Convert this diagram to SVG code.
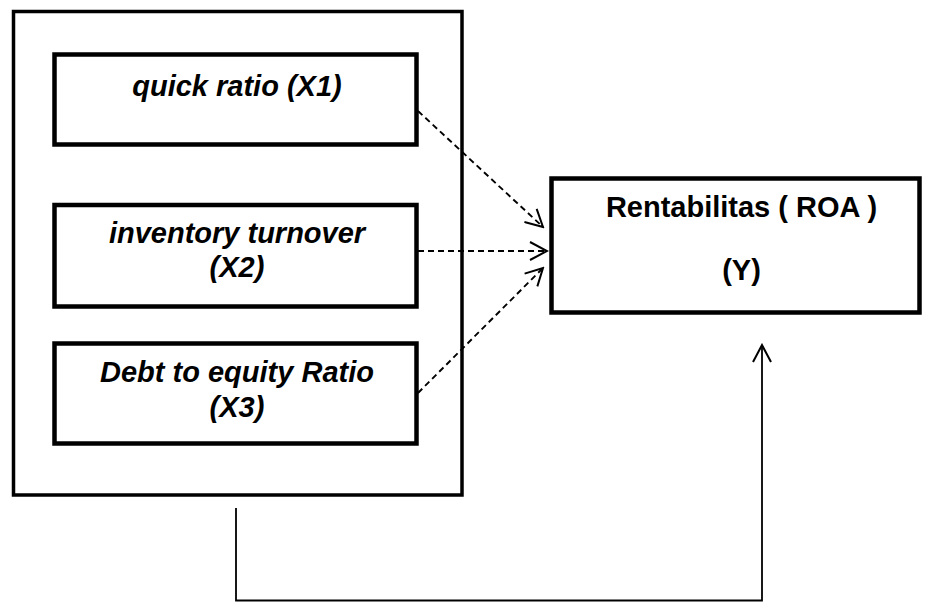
<svg xmlns="http://www.w3.org/2000/svg" width="927" height="602" viewBox="0 0 927 602">
<style>
.box{fill:#fff;stroke:#000;stroke-width:4.5}
.outer{fill:#fff;stroke:#000;stroke-width:3.5}
.lbl{font-family:"Liberation Sans",Arial,sans-serif;font-size:29px;font-weight:bold;fill:#000;text-anchor:middle}
.it{font-style:italic}
.dash{fill:none;stroke:#000;stroke-width:1.9;stroke-dasharray:6 4}
.solid{fill:none;stroke:#000;stroke-width:1.8}
</style>
<defs>
<marker id="open" viewBox="0 0 20 20" refX="18" refY="10" markerWidth="20" markerHeight="20" markerUnits="userSpaceOnUse" orient="auto">
<path d="M1,1 L18,10 L1,19" fill="none" stroke="#000" stroke-width="2"/>
</marker>
</defs>
<g id="group-x">
<rect class="outer" x="13.5" y="11.5" width="448.5" height="483.5"/>
</g>
<g id="x1">
<rect class="box" x="54.5" y="54.5" width="362" height="90"/>
<text class="lbl it" x="237" y="96">quick ratio (X1)</text>
</g>
<g id="x2">
<rect class="box" x="54.5" y="205" width="362" height="101.5"/>
<text class="lbl it" x="237" y="243">inventory turnover</text>
<text class="lbl it" x="237" y="277">(X2)</text>
</g>
<g id="x3">
<rect class="box" x="54.5" y="343.5" width="362" height="100"/>
<text class="lbl it" x="237" y="382">Debt to equity Ratio</text>
<text class="lbl it" x="237" y="417">(X3)</text>
</g>
<g id="y">
<rect class="box" x="551.5" y="178.5" width="368" height="134"/>
<text class="lbl" x="741.5" y="217">Rentabilitas ( ROA )</text>
<text class="lbl" x="741.5" y="280">(Y)</text>
</g>
<g id="connectors">
<line class="dash" x1="418" y1="111" x2="543" y2="227" marker-end="url(#open)"/>
<line class="dash" x1="418" y1="251" x2="547" y2="251" marker-end="url(#open)"/>
<line class="dash" x1="418" y1="393" x2="543" y2="268" marker-end="url(#open)"/>
<polyline class="solid" points="236,508 236,600.5 762,600.5 762,345" marker-end="url(#open)"/>
</g>
</svg>
